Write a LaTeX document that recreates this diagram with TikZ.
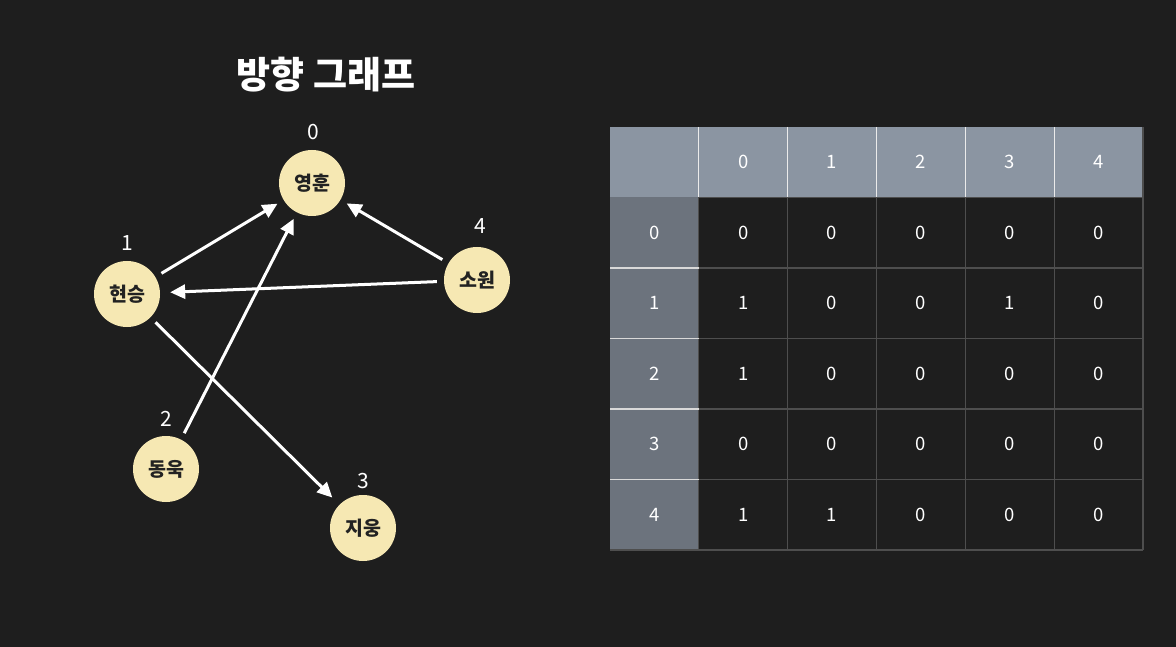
\documentclass[tikz,border=0pt]{standalone}
\usepackage{fontspec}
\setmainfont{Noto Sans CJK KR}
\usetikzlibrary{arrows.meta}
\definecolor{bgc}{HTML}{1E1E1E}
\definecolor{cream}{HTML}{F6E8B3}
\definecolor{hdr}{HTML}{8B95A2}
\definecolor{leftc}{HTML}{6C737D}
\definecolor{gridc}{HTML}{4E4E4E}
\definecolor{ink}{HTML}{222222}
\tikzset{
  vert/.style={circle, fill=cream, minimum size=66pt, inner sep=0pt, text=ink,
    font=\fontsize{19.5}{19.5}\selectfont\bfseries},
  idx/.style={text=white, font=\fontsize{21}{21}\selectfont, inner sep=0pt},
  arr/.style={draw=white, line width=3pt, -{Triangle[length=15pt,width=14pt]},
    shorten >=7pt, shorten <=7pt},
  cell/.style={text=white, font=\fontsize{18.5}{18.5}\selectfont, inner sep=0pt},
}
\begin{document}
\begin{tikzpicture}[x=1pt,y=-1pt]
\fill[bgc] (0,0) rectangle (1176,647);
\useasboundingbox (0,0) rectangle (1176,647);

% title
\node[text=white, font=\fontsize{37}{37}\selectfont\bfseries] (title) at (326,75) {방향 그래프};

% vertices
\node[vert] (n0) at (312,183) {영훈};
\node[vert] (n1) at (127,294) {현승};
\node[vert] (n2) at (166,469) {동욱};
\node[vert] (n3) at (363,528) {지웅};
\node[vert] (n4) at (477,280) {소원};

\node[idx] (l0) at (313,132) {0};
\node[idx] (l1) at (127,243) {1};
\node[idx] (l2) at (166,419) {2};
\node[idx] (l3) at (363,481) {3};
\node[idx] (l4) at (480,226) {4};

% edges
\draw[arr] (n1) -- (n0);
\draw[arr] (n2) -- (n0);
\draw[arr] (n4) -- (n0);
\draw[arr, shorten >=10pt] (n4) -- (n1);
\draw[arr, shorten >=10pt] (n1) -- (n3);

% table
\def\cw{88.83}
\def\ch{70.5}
\fill[hdr] (610,127) rectangle (1143,197);
\fill[leftc] (610,197) rectangle (699,550);
% body grid
\foreach \i in {1,...,5}{
  \draw[gridc, line width=1.2pt] ({610+\cw*(\i)},197) -- ({610+\cw*(\i)},550);
}
\draw[gridc, line width=1.2pt] (1143,127) -- (1143,550);
\foreach \j in {1,...,5}{
  \draw[gridc, line width=1.2pt] (699,{127+\ch*(\j)}) -- (1143,{127+\ch*(\j)});
}
\draw[gridc, line width=1.2pt] (610,550) -- (1143,550);
% header separators
\foreach \i in {1,...,5}{
  \draw[white!92!black, line width=1.3pt] ({610+\cw*(\i)},127) -- ({610+\cw*(\i)},197);
}
% left column separators
\foreach \j in {2,...,5}{
  \draw[white!85!black, line width=1.3pt] (610,{127+\ch*(\j)}) -- (699,{127+\ch*(\j)});
}
% header labels
\foreach \c in {0,...,4}{
  \node[cell] (h\c) at ({610+\cw*(\c+1.5)},{127+\ch*0.5}) {\c};
  \node[cell] (r\c) at ({610+\cw*0.5},{127+\ch*(\c+1.5)}) {\c};
}
% values
\foreach \r/\vals in {0/{0,0,0,0,0},1/{1,0,0,1,0},2/{1,0,0,0,0},3/{0,0,0,0,0},4/{1,1,0,0,0}}{
  \foreach \v [count=\c from 0] in \vals {
    \node[cell] (m\r\c) at ({610+\cw*(\c+1.5)},{127+\ch*(\r+1.5)}) {\v};
  }
}
\end{tikzpicture}
\end{document}
